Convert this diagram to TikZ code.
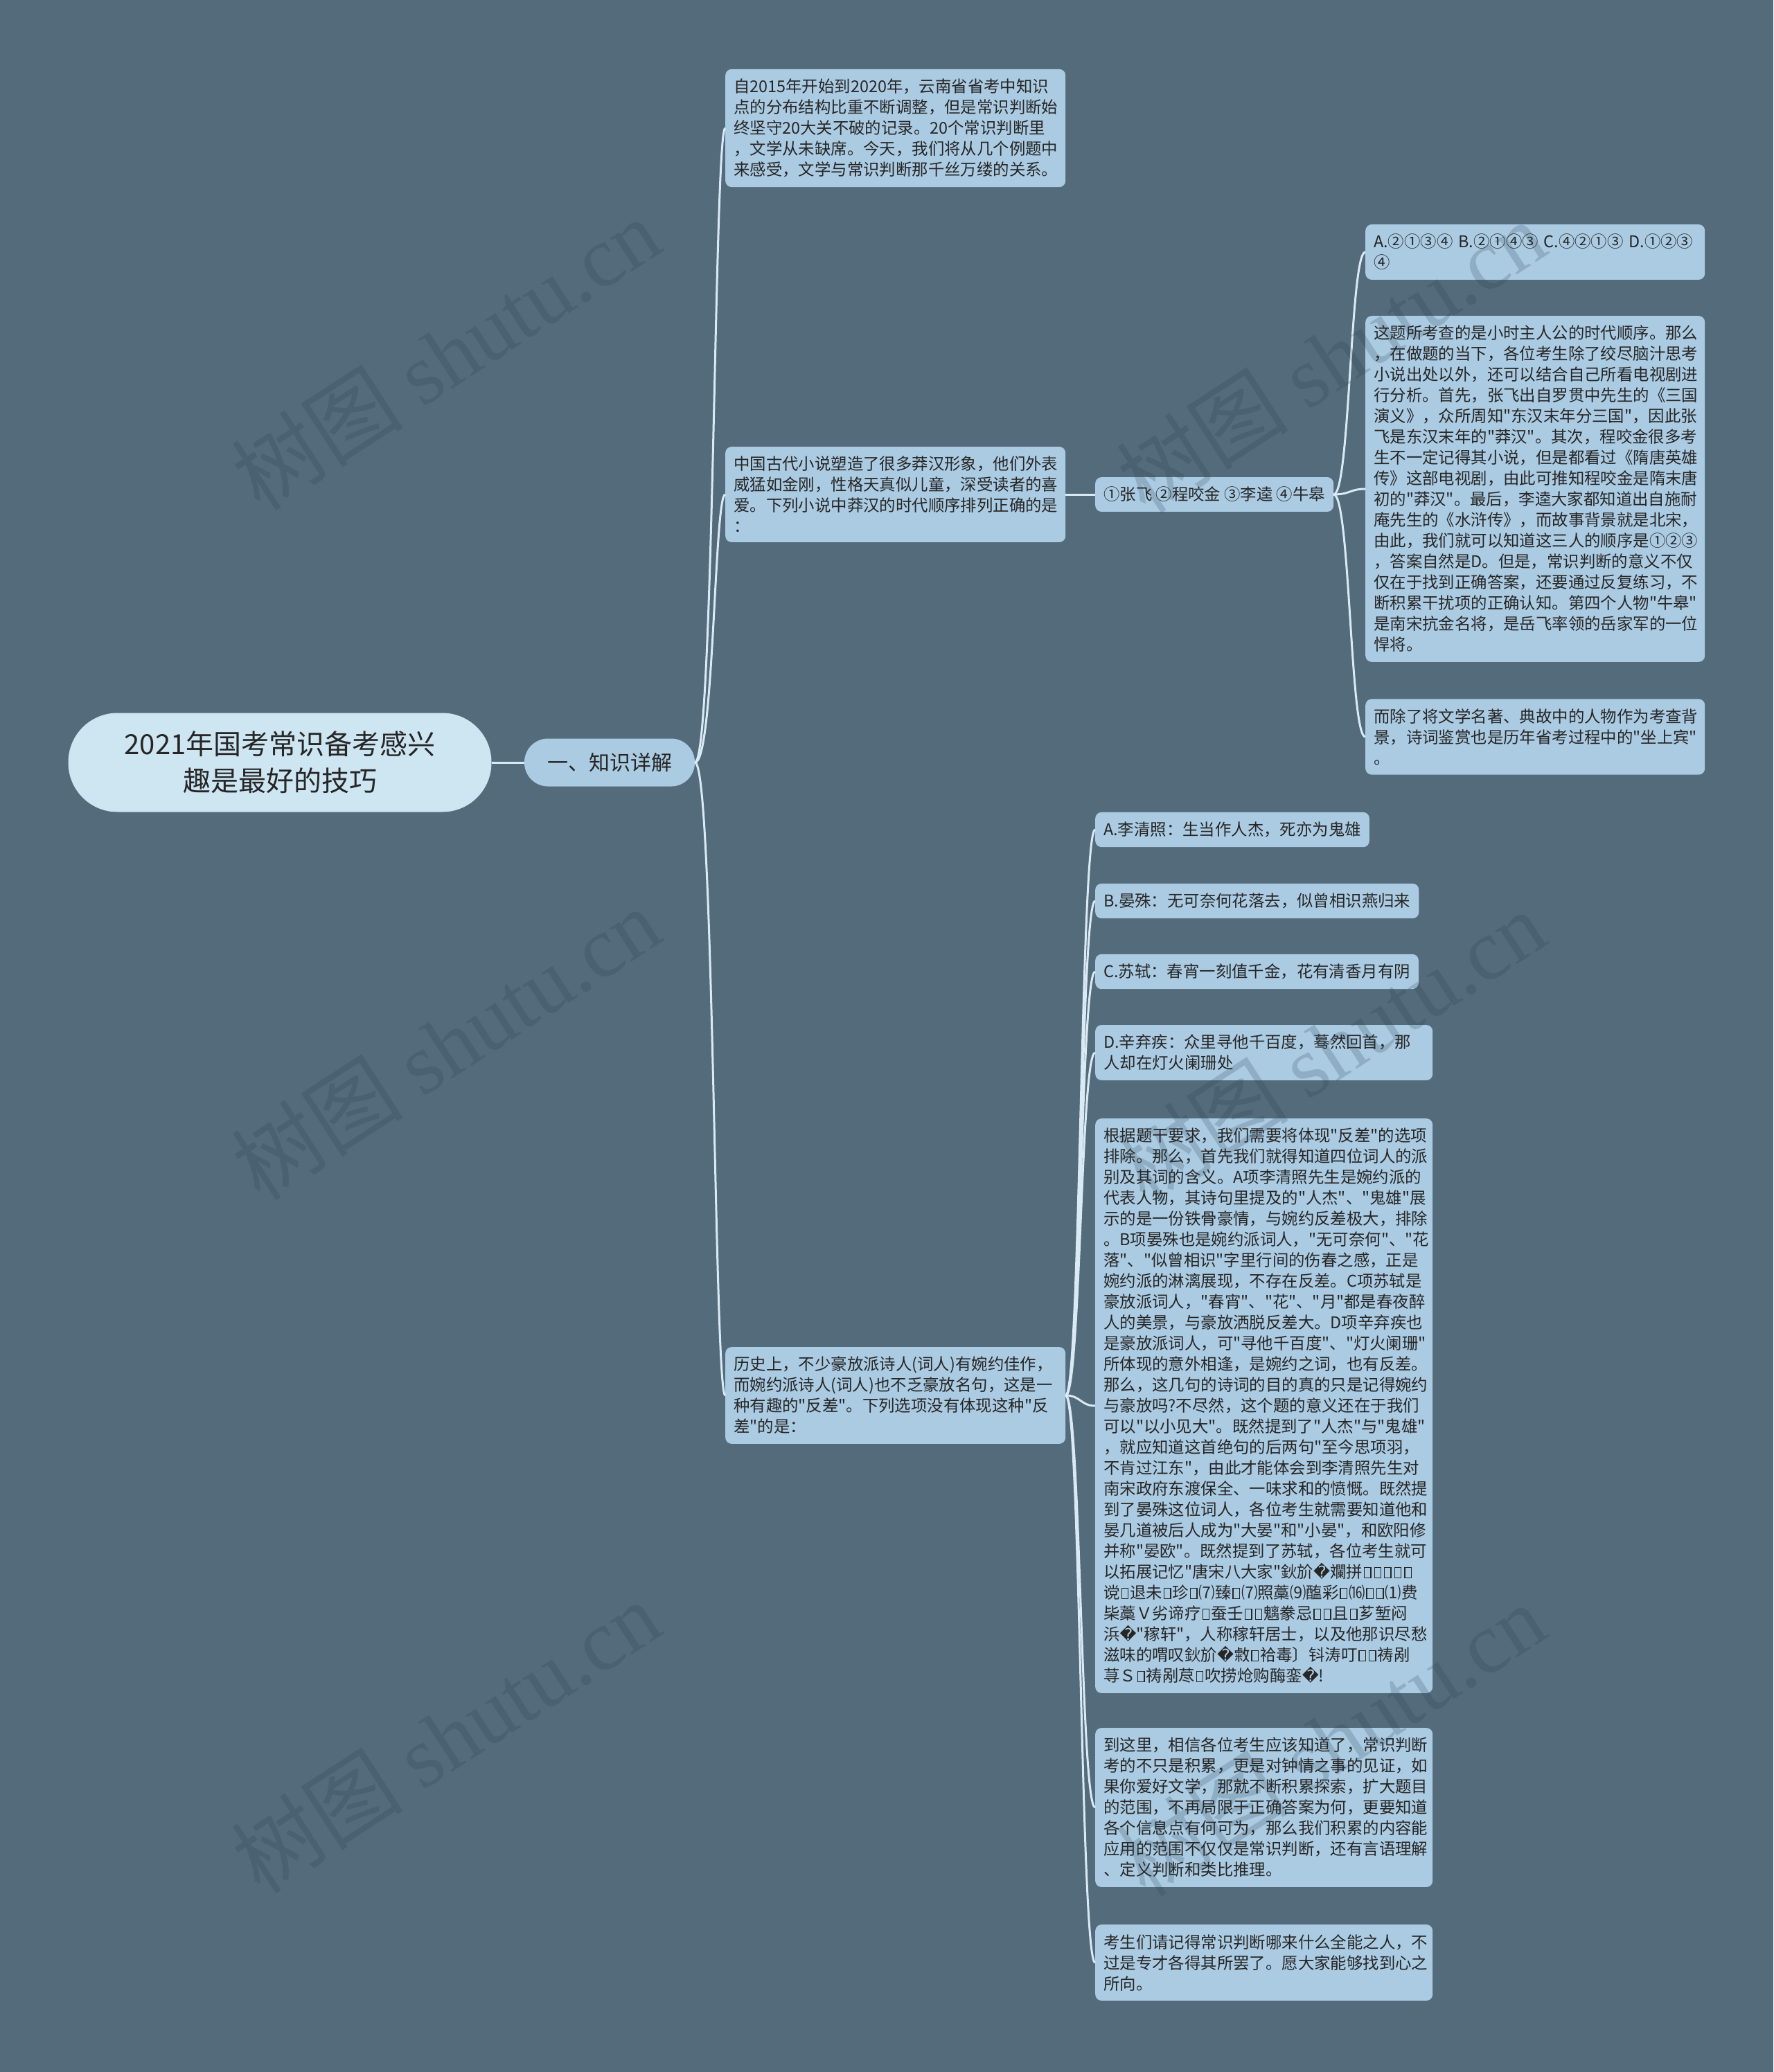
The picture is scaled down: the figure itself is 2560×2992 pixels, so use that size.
\documentclass[tikz,border=0pt]{standalone}
\usepackage{fontspec}
\setmainfont{Noto Sans CJK SC}[Ligatures=TeXOff]
\newfontfamily\djv{DejaVu Sans}
\newfontfamily\wmlat{Liberation Serif}
\newfontfamily\wmcjk{Noto Sans CJK SC}
\definecolor{bgc}{RGB}{83,107,123}
\definecolor{boxc}{RGB}{171,203,226}
\definecolor{rootc}{RGB}{206,229,242}
\definecolor{txtc}{RGB}{38,38,38}
\definecolor{linec}{RGB}{218,234,245}
\definecolor{wmc}{RGB}{40,60,75}
\newcommand\tf{\kern2pt\hbox{\vrule width1.3pt\vbox to 16pt{\hrule height1.3pt width8pt\vfil\hrule height1.3pt}\vrule width1.3pt}\kern2pt}
\newcommand\rp{{\djv\char"FFFD}}
\begin{document}
\begin{tikzpicture}[x=1pt,y=-1pt,
  box/.style={fill=boxc, rounded corners=9pt, inner xsep=12pt, inner ysep=14pt, anchor=west, align=left, text=txtc, font=\fontsize{23.4}{30}\selectfont},
  conn/.style={draw=linec, line width=3pt},
  wm/.style={text=wmc, opacity=0.2, rotate=33, font=\fontsize{125}{125}\selectfont}]
\useasboundingbox (0,0) rectangle (2560,2992);
\fill[bgc] (0,0) rectangle (2560,2992);

% root and level 1
\node[fill=rootc, rounded corners=71pt, minimum width=611pt, minimum height=143pt, align=center, text=txtc, inner sep=0pt, font=\fontsize{40}{53}\selectfont] (root) at (404,1101) {2021年国考常识备考感兴\\趣是最好的技巧};
\node[fill=boxc, rounded corners=34pt, minimum width=246pt, minimum height=69pt, text=txtc, inner sep=0pt, font=\fontsize{30}{36}\selectfont] (l1) at (880,1101) {一、知识详解};

% level 2
\node[box, text width=467pt] (c1) at (1047,185) {自2015年开始到2020年，云南省省考中知识\\点的分布结构比重不断调整，但是常识判断始\\终坚守20大关不破的记录。20个常识判断里\\，文学从未缺席。今天，我们将从几个例题中\\来感受，文学与常识判断那千丝万缕的关系。};
\node[box, text width=467pt] (c2) at (1047,714) {中国古代小说塑造了很多莽汉形象，他们外表\\威猛如金刚，性格天真似儿童，深受读者的喜\\爱。下列小说中莽汉的时代顺序排列正确的是\\：};
\node[box, text width=467pt] (c3) at (1047,2015) {历史上，不少豪放派诗人(词人)有婉约佳作，\\而婉约派诗人(词人)也不乏豪放名句，这是一\\种有趣的"反差"。下列选项没有体现这种"反\\差"的是：};

% persons
\node[box] (p) at (1581,714) {①张飞 ②程咬金 ③李逵 ④牛皋};

\node[box, text width=466pt] (d1) at (1971,364) {A.②①③④ B.②①④③ C.④②①③ D.①②③\\④};
\node[box, text width=466pt] (d2) at (1971,706) {这题所考查的是小时主人公的时代顺序。那么\\，在做题的当下，各位考生除了绞尽脑汁思考\\小说出处以外，还可以结合自己所看电视剧进\\行分析。首先，张飞出自罗贯中先生的《三国\\演义》，众所周知"东汉末年分三国"，因此张\\飞是东汉末年的"莽汉"。其次，程咬金很多考\\生不一定记得其小说，但是都看过《隋唐英雄\\传》这部电视剧，由此可推知程咬金是隋末唐\\初的"莽汉"。最后，李逵大家都知道出自施耐\\庵先生的《水浒传》，而故事背景就是北宋，\\由此，我们就可以知道这三人的顺序是①②③\\，答案自然是D。但是，常识判断的意义不仅\\仅在于找到正确答案，还要通过反复练习，不\\断积累干扰项的正确认知。第四个人物"牛皋"\\是南宋抗金名将，是岳飞率领的岳家军的一位\\悍将。};
\node[box, text width=466pt] (d3) at (1971,1064) {而除了将文学名著、典故中的人物作为考查背\\景，诗词鉴赏也是历年省考过程中的"坐上宾"\\。};

% options
\node[box] (e1) at (1581,1198) {A.李清照：生当作人杰，死亦为鬼雄};
\node[box] (e2) at (1581,1301) {B.晏殊：无可奈何花落去，似曾相识燕归来};
\node[box] (e3) at (1581,1403) {C.苏轼：春宵一刻值千金，花有清香月有阴};
\node[box, text width=463pt] (e4) at (1581,1520) {D.辛弃疾：众里寻他千百度，蓦然回首，那\\人却在灯火阑珊处};
\node[box, text width=463pt] (e5) at (1581,2030) {根据题干要求，我们需要将体现"反差"的选项\\排除。那么，首先我们就得知道四位词人的派\\别及其词的含义。A项李清照先生是婉约派的\\代表人物，其诗句里提及的"人杰"、"鬼雄"展\\示的是一份铁骨豪情，与婉约反差极大，排除\\。B项晏殊也是婉约派词人，"无可奈何"、"花\\落"、"似曾相识"字里行间的伤春之感，正是\\婉约派的淋漓展现，不存在反差。C项苏轼是\\豪放派词人，"春宵"、"花"、"月"都是春夜醉\\人的美景，与豪放洒脱反差大。D项辛弃疾也\\是豪放派词人，可"寻他千百度"、"灯火阑珊"\\所体现的意外相逢，是婉约之词，也有反差。\\那么，这几句的诗词的目的真的只是记得婉约\\与豪放吗?不尽然，这个题的意义还在于我们\\可以"以小见大"。既然提到了"人杰"与"鬼雄"\\，就应知道这首绝句的后两句"至今思项羽，\\不肯过江东"，由此才能体会到李清照先生对\\南宋政府东渡保全、一味求和的愤慨。既然提\\到了晏殊这位词人，各位考生就需要知道他和\\晏几道被后人成为"大晏"和"小晏"，和欧阳修\\并称"晏欧"。既然提到了苏轼，各位考生就可\\以拓展记忆"唐宋八大家"鈥斺\rp 斕拼\tf\tf\tf\tf\tf\\谠\tf 退未\tf 珍\tf ⑺臻\tf ⑺照藁⑼醢彩\tf ⒃\tf\tf ⑴费\\枈藁Ｖ劣谛疗\tf 蚕壬\tf\tf 魑豢忌\tf\tf 且\tf 芗堑闷\\浜\rp"稼轩"，人称稼轩居士，以及他那识尽愁\\滋味的喟叹鈥斺\rp 敹\tf 袷毒〕钭涛叮\tf\tf 祷剐\\荨Ｓ\tf 祷剐荩\tf 吹捞炝购酶銮\rp!};
\node[box, text width=463pt] (e6) at (1581,2610) {到这里，相信各位考生应该知道了，常识判断\\考的不只是积累，更是对钟情之事的见证，如\\果你爱好文学，那就不断积累探索，扩大题目\\的范围，不再局限于正确答案为何，更要知道\\各个信息点有何可为，那么我们积累的内容能\\应用的范围不仅仅是常识判断，还有言语理解\\、定义判断和类比推理。};
\node[box, text width=463pt] (e7) at (1581,2834) {考生们请记得常识判断哪来什么全能之人，不\\过是专才各得其所罢了。愿大家能够找到心之\\所向。};

% connectors
\draw[conn] (root.east) -- (l1.west);
\foreach \n/\yy in {c1/185,c2/714,c3/2015}
  \draw[conn] (l1.east) .. controls (1031,1101) and (1031,\yy) .. (\n.west);
\draw[conn] (c2.east) -- (p.west);
\foreach \n/\yy in {d1/364,d2/706,d3/1064}
  \draw[conn] (p.east) .. controls (1949,714) and (1949,\yy) .. (\n.west);
\foreach \n/\yy in {e1/1198,e2/1301,e3/1403,e4/1520,e5/2030,e6/2610,e7/2834}
  \draw[conn] (c3.east) .. controls (1560,2015) and (1560,\yy) .. (\n.west);

% watermarks
\foreach \i/\xx/\yy in {1/643/511,2/643/1507,3/643/2508,4/1921/515,5/1921/1511,6/1921/2512}
  \node[wm] (wm\i) at (\xx,\yy) {{\wmcjk 树图} {\wmlat shutu.cn}};
\end{tikzpicture}
\end{document}
